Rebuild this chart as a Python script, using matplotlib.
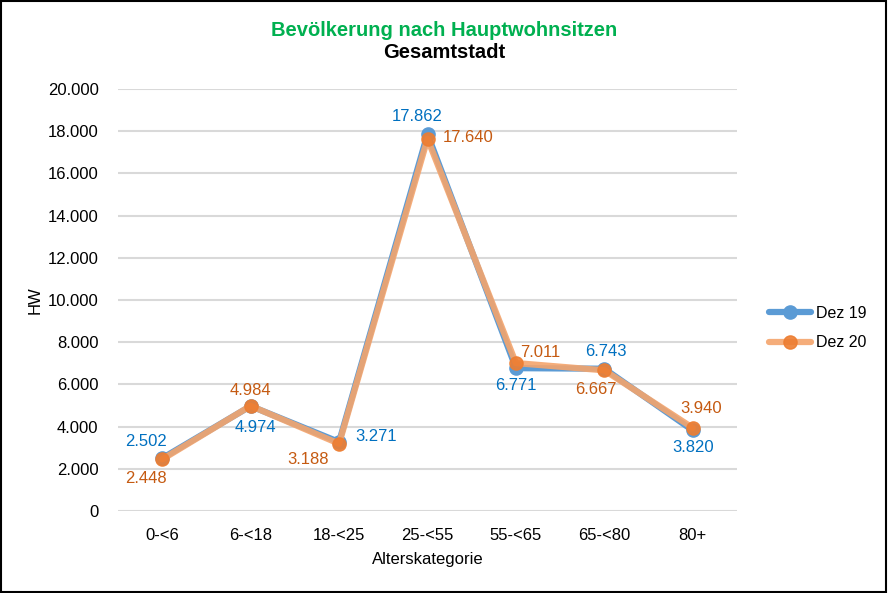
import matplotlib
matplotlib.use("Agg")
import matplotlib.pyplot as plt
from matplotlib.patches import Rectangle

plt.rcParams['font.family'] = ['Liberation Sans', 'DejaVu Sans']

categories = ["0-<6", "6-<18", "18-<25", "25-<55", "55-<65", "65-<80", "80+"]
dez19 = [2502, 4974, 3271, 17862, 6771, 6743, 3820]
dez20 = [2448, 4984, 3188, 17640, 7011, 6667, 3940]
yticks = [0, 2000, 4000, 6000, 8000, 10000, 12000, 14000, 16000, 18000, 20000]

def fmt(v):
    return f"{v:,}".replace(",", ".")

# label offsets in pixels (x, y)
off19 = [(-16, 17), (5, -21), (37, 5), (-10, 18), (0, -17), (2, 17), (0, -17)]
off20 = [(-16, -19), (0, 15), (-31, -16), (41, 1), (24, 11), (-8, -19), (8, 19)]

fig = plt.figure(figsize=(8.88, 5.93), dpi=100)
ax = fig.add_axes([118/888, 1-511/593, (737-118)/888, (511-89)/593])

x = list(range(len(categories)))
ax.plot(x, dez19, color='#5B9BD5', lw=4.5, marker='o', ms=9.5, mfc='#5B9BD5', mec='#5B9BD5',
        label='Dez 19', zorder=3, solid_capstyle='round')
ax.plot(x, dez20, color='#F4A46C', lw=4.5, marker='o', ms=9.5, mfc='#ED7D31', mec='#ED7D31',
        label='Dez 20', zorder=4, alpha=0.9, solid_capstyle='round')

for i, v in enumerate(dez19):
    ax.annotate(fmt(v), (i, v), xytext=off19[i], textcoords='offset pixels',
                ha='center', va='center', color='#0070C0', fontsize=12)
for i, v in enumerate(dez20):
    ax.annotate(fmt(v), (i, v), xytext=off20[i], textcoords='offset pixels',
                ha='center', va='center', color='#C55A11', fontsize=12)

ax.set_xlim(-0.5, 6.5)
ax.set_ylim(0, 20000)
ax.set_yticks(yticks)
ax.set_yticklabels([fmt(v) for v in yticks], fontsize=12)
ax.set_xticks(x)
ax.set_xticklabels(categories, fontsize=12)
ax.tick_params(length=0, pad=14)
ax.tick_params(axis='x', pad=12)
ax.grid(axis='y', color='#D9D9D9', lw=1.5)
ax.set_axisbelow(True)
for s in ax.spines.values():
    s.set_visible(False)

ax.set_xlabel("Alterskategorie", fontsize=12, labelpad=7)
ax.set_ylabel("HW", fontsize=12, labelpad=4)

fig.text(444/888, 1-30/593, "Bevölkerung nach Hauptwohnsitzen", color='#00B050',
         fontsize=14.5, fontweight='bold', ha='center', va='center')
fig.text(444/888, 1-52/593, "Gesamtstadt", color='black',
         fontsize=14.5, fontweight='bold', ha='center', va='center')

leg = ax.legend(loc='center left', bbox_to_anchor=(755/888, 1-328/593), bbox_transform=fig.transFigure,
                frameon=False, fontsize=11.5, handlelength=2.6, labelspacing=0.9, handletextpad=0.3)

fig.patches.append(Rectangle((0.001, 0.001), 0.997, 0.997, transform=fig.transFigure,
                             fill=False, edgecolor='black', lw=1.5))

fig.savefig("out.png", dpi=100)
